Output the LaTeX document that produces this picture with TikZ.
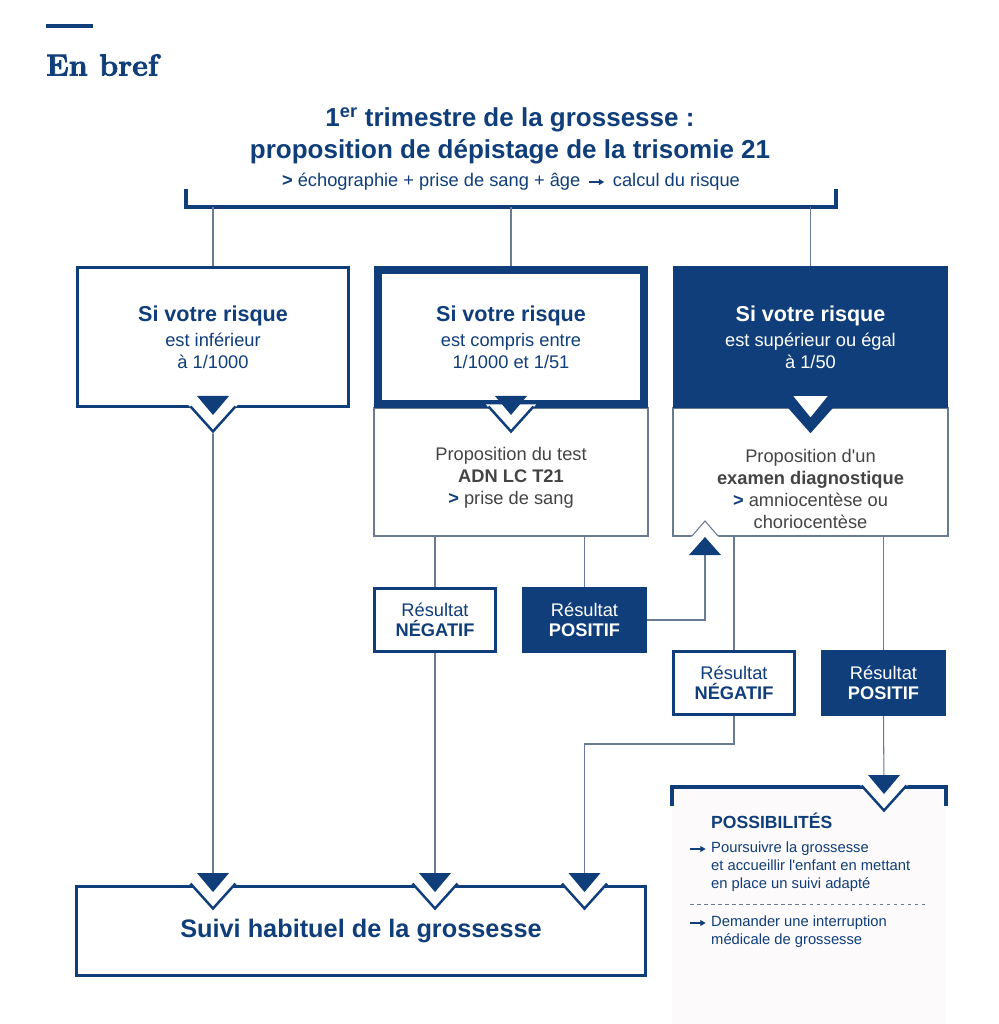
\documentclass[tikz,border=0pt]{standalone}
\usepackage{fontspec}
\setsansfont{Liberation Sans}
\newfontfamily\brieffont[FakeBold=2.5]{Latin Modern Roman}
\usetikzlibrary{arrows.meta}

\definecolor{navy}{RGB}{16,62,122}
\definecolor{filgris}{RGB}{104,122,148}
\definecolor{texte}{RGB}{68,68,68}
\definecolor{fond}{RGB}{252,250,250}

\newcommand\grand{\fontsize{18.4}{22}\selectfont\bfseries}
\newcommand\moyen{\fontsize{15.6}{18.7}\selectfont}
\newcommand\petit{\fontsize{12.6}{15.3}\selectfont}
\newcommand\fleche{\tikz[baseline=-0.5ex]\draw[navy, line width=1pt, -{Triangle[length=4.5pt, width=5pt]}] (0pt,0pt) -- (13pt,0pt);}

\tikzset{
  risque/.style={draw=navy, line width=2.5pt, fill=white, text=navy, align=center,
    minimum width=81.3mm, minimum height=41.7mm, font=\sffamily\moyen},
  risqueplein/.style={fill=navy, text=white, align=center,
    minimum width=82.5mm, minimum height=42.6mm, font=\sffamily\moyen},
  bas/.style={draw=filgris, line width=0.9pt, fill=white, minimum width=82.2mm, minimum height=38.4mm},
  propo/.style={align=center, text=texte, font=\sffamily\moyen},
  resblanc/.style={draw=navy, line width=2.5pt, fill=white, text=navy, align=center,
    minimum width=36.3mm, minimum height=18.9mm, font=\sffamily\fontsize{15.6}{17}\selectfont},
  resplein/.style={fill=navy, text=white, align=center,
    minimum width=37.5mm, minimum height=19.8mm, font=\sffamily\fontsize{15.6}{17}\selectfont},
  suivi/.style={draw=navy, line width=2.5pt, fill=white, text=navy,
    minimum width=170.7mm, minimum height=26.7mm, font=\sffamily\fontsize{21.6}{26}\selectfont\bfseries},
  fil/.style={draw=filgris, line width=0.9pt},
  accolade/.style={draw=navy, line width=3.4pt},
  tirets/.style={draw=filgris, line width=0.6pt, dash pattern=on 3pt off 3pt},
  item/.style={anchor=west, align=left, inner sep=0pt, text=navy, font=\sffamily\petit},
  pics/encoche/.style={code={
    \fill[white] (-25,-3.5) -- (25,-3.5) -- (0,26) -- cycle;
    \draw[navy, line width=2.1pt] (-22.5,-1.5) -- (0,23.5) -- (22.5,-1.5);
    \fill[navy] (-16,-12) -- (16,-12) -- (0,7) -- cycle;
  }},
  pics/encochepleine/.style={code={
    \fill[navy] (-23,-1) -- (23,-1) -- (0,25) -- cycle;
    \fill[white] (-17,-12) -- (17,-12) -- (0,9) -- cycle;
  }},
}

\begin{document}
\begin{tikzpicture}[x=0.3mm, y=-0.3mm]
  \useasboundingbox (0,0) rectangle (998,1024);

  % Titre
  \fill[navy] (46,24) rectangle (93,28);
  \node[anchor=west, inner sep=0pt, text=navy, font=\brieffont\fontsize{26}{30}\selectfont\bfseries]
    (bref) at (46,65) {En bref};

  \node[align=center, text=navy, font=\sffamily\fontsize{22.2}{27.2}\selectfont\bfseries]
    (titre) at (510,136) {1\textsuperscript{er} trimestre de la grossesse :\\proposition de dépistage de la trisomie 21};
  \node[text=navy, font=\sffamily\moyen] (sous) at (511,182)
    {{\bfseries >} échographie + prise de sang + âge\, \fleche\, calcul du risque};

  \draw[accolade] (186,189) -- (186,207) -- (836,207) -- (836,189);
  \coordinate (brk) at (511,207);

  % Les trois cas
  \node[risque] (A) at (213,337) {{\grand Si votre risque}\\[2.6pt]est inférieur\\à 1/1000};
  \node[bas] (Bbas) at (511,472) {};
  \node[risque, line width=6.8pt, minimum width=79.8mm, minimum height=40.2mm] (B) at (511,337)
    {{\grand Si votre risque}\\[2.6pt]est compris entre\\1/1000 et 1/51};
  \node[bas, minimum width=82.5mm] (Cbas) at (810.5,472) {};
  \node[risqueplein] (C) at (810.5,337)
    {{\grand Si votre risque}\\[2.6pt]est supérieur ou égal\\à 1/50};

  \node[propo] (Btxt) at (511,478)
    {Proposition du test\\{\bfseries ADN LC T21}\\{\color{navy}\bfseries >} prise de sang};
  \node[propo] (Ctxt) at (810.5,489)
    {Proposition d\textquotesingle un\\{\bfseries examen diagnostique}\\{\color{navy}\bfseries >} amniocentèse ou\\choriocentèse};

  % Resultats
  \node[resblanc] (B1) at (435,620) {Résultat\\\textbf{NÉGATIF}};
  \node[resplein] (B2) at (584.5,620) {Résultat\\\textbf{POSITIF}};
  \node[resblanc] (C1) at (734,683) {Résultat\\\textbf{NÉGATIF}};
  \node[resplein] (C2) at (883.5,683) {Résultat\\\textbf{POSITIF}};

  \node[suivi] (S) at (361,931) {Suivi habituel de la grossesse};

  % Possibilites
  \fill[fond] (672,787) rectangle (946,1024);
  \draw[accolade] (672,806) -- (672,787) -- (946,787) -- (946,806);
  \coordinate (poss) at (884,787);
  \node[anchor=west, inner sep=0pt, text=navy, font=\sffamily\fontsize{15}{18}\selectfont\bfseries]
    (possib) at (711,821) {POSSIBILITÉS};
  \node[inner sep=0pt] (f1) at (698,849) {\fleche};
  \node[item] (p1) at (711,867) {Poursuivre la grossesse\\et accueillir l\textquotesingle enfant en mettant\\en place un suivi adapté};
  \draw[tirets] (690,904) -- (925,904);
  \node[inner sep=0pt] (f2) at (698,923) {\fleche};
  \node[item] (p2) at (711,932) {Demander une interruption\\médicale de grossesse};

  % Liaisons
  \coordinate (haut) at (705,536);
  \draw[fil] (A.north |- brk) -- (A.north);
  \draw[fil] (B.north |- brk) -- (B.north);
  \draw[fil] (C.north |- brk) -- (C.north);
  \draw[fil] (A.south) -- (A.south |- S.north);
  \draw[fil] (B1.north |- Bbas.south) -- (B1.north);
  \draw[fil] (B2.north |- Bbas.south) -- (B2.north);
  \draw[fil] (B1.south) -- (B1.south |- S.north);
  \draw[fil] (B2.east) -| (haut);
  \draw[fil] (C1.north |- Cbas.south) -- (C1.north);
  \draw[fil] (C2.north |- Cbas.south) -- (C2.north);
  \draw[fil] (C1.south) -- ++(0,28) -| (B2.south |- S.north);
  \draw[fil] (C2.south) -- (poss);

  % Encoches
  \pic at (A.south) {encoche};
  \pic at (B.south) {encoche};
  \pic at (C.south) {encochepleine};
  \foreach \n in {A, B1, B2}
    \pic at (\n.south |- S.north) {encoche};
  \pic at (poss) {encoche};
  \fill[white] (691,537.5) -- (719,537.5) -- (705,519) -- cycle;
  \draw[fil] (692,536) -- (705,521) -- (718,536);
  \fill[navy] (689,555) -- (721,555) -- (705,537) -- cycle;
\end{tikzpicture}
\end{document}
